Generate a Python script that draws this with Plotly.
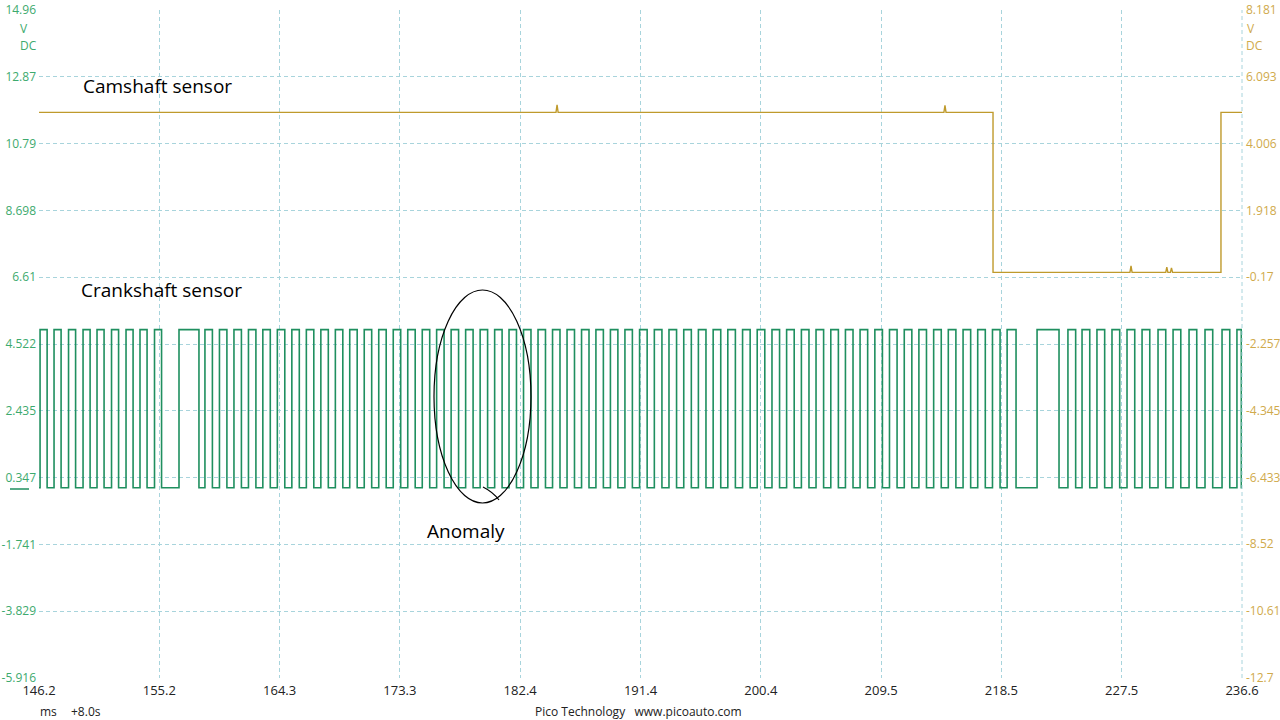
import plotly.graph_objects as go

# ---------------- data ----------------
x_tick_vals = [146.2, 155.24, 164.28, 173.32, 182.36, 191.4, 200.44, 209.48, 218.52, 227.56, 236.6]
x_tick_text = ["146.2", "155.2", "164.3", "173.3", "182.4", "191.4", "200.4", "209.5", "218.5", "227.5", "236.6"]

left_ticks = [14.96, 12.87, 10.79, 8.698, 6.61, 4.522, 2.435, 0.347, -1.741, -3.829, -5.916]
right_ticks = [8.181, 6.093, 4.006, 1.918, -0.17, -2.257, -4.345, -6.433, -8.52, -10.61, -12.7]

# Crankshaft sensor (left axis, V): rising / falling edge times (ms)
crank_rise_ms = [146.28, 147.33, 148.42, 149.51, 150.56, 151.65, 152.74, 153.79, 154.88,
                 156.72,
                 158.67, 159.76, 160.85, 161.94, 163.02, 164.11, 165.20, 166.29, 167.38, 168.47,
                 169.55, 170.64, 171.73, 172.82, 173.91, 175.00, 176.08, 177.17, 178.26, 179.35,
                 180.44, 181.52, 182.61, 183.70, 184.79, 185.88, 186.97, 188.05, 189.14, 190.23,
                 191.33, 192.44, 193.54, 194.65, 195.75, 196.86, 197.96, 199.07, 200.17, 201.28,
                 202.38, 203.49, 204.59, 205.70, 206.80, 207.90, 209.01, 210.11, 211.22, 212.32,
                 213.43, 214.53, 215.64, 216.74, 217.85, 218.95,
                 221.20,
                 223.52, 224.58, 225.70, 226.83, 227.96, 229.09, 230.29, 231.42, 232.62, 233.82,
                 235.10, 236.22]
crank_fall_ms = [146.81, 147.86, 148.95, 150.04, 151.09, 152.18, 153.27, 154.32, 155.41,
                 158.22,
                 159.23, 160.32, 161.41, 162.50, 163.58, 164.67, 165.76, 166.85, 167.94, 169.03,
                 170.11, 171.20, 172.29, 173.38, 174.47, 175.56, 176.64, 177.73, 178.82, 179.91,
                 181.00, 182.08, 183.17, 184.26, 185.35, 186.44, 187.53, 188.61, 189.70, 190.79,
                 191.90, 193.01, 194.11, 195.22, 196.32, 197.43, 198.53, 199.64, 200.74, 201.85,
                 202.95, 204.06, 205.16, 206.27, 207.37, 208.47, 209.58, 210.68, 211.79, 212.89,
                 214.00, 215.10, 216.21, 217.31, 218.42, 219.62,
                 222.85,
                 224.10, 225.16, 226.28, 227.41, 228.54, 229.67, 230.87, 232.00, 233.20, 234.40,
                 235.68, 236.55]
crank_high_v = 4.97
crank_low_v = 0.03

# Camshaft sensor (right axis, V)
cam_high_v = 4.98
cam_low_v = -0.02
cam_fall_ms = 217.89
cam_rise_ms = 235.02
cam_glitch_ms = [185.13, 214.28, 228.26, 230.95, 231.3]
cam_glitch_v = [5.22, 5.20, 0.18, 0.14, 0.12]

T_START, T_END = 146.2, 236.6

# ---------------- build traces ----------------
cx, cy = [T_START], [crank_low_v]
for r, f in zip(crank_rise_ms, crank_fall_ms):
    cx += [r, f]
    cy += [crank_high_v, crank_low_v]
cx.append(T_END)
cy.append(cy[-1])

pts = [(T_START, cam_high_v), (cam_fall_ms, cam_high_v), (cam_fall_ms, cam_low_v),
       (cam_rise_ms, cam_low_v), (cam_rise_ms, cam_high_v), (T_END, cam_high_v)]
for t, v in zip(cam_glitch_ms, cam_glitch_v):
    base = cam_low_v if cam_fall_ms < t < cam_rise_ms else cam_high_v
    pts += [(t - 0.08, base), (t, v), (t + 0.08, base)]
pts.sort(key=lambda p: p[0])
camx = [p[0] for p in pts]
camy = [p[1] for p in pts]

GREEN = "#1f8f5f"
GOLD = "#bf9a2c"
GREEN_TXT = "#3daa6e"
GOLD_TXT = "#d0aa4c"
GRID = "#a8d4dc"
FONT = "Open Sans, Noto Sans, sans-serif"

fig = go.Figure()
fig.add_trace(go.Scatter(x=camx, y=camy, mode="lines", yaxis="y2",
                         line=dict(color=GOLD, width=1.4), name="Camshaft", hoverinfo="skip"))
fig.add_trace(go.Scatter(x=cx, y=cy, mode="lines", line_shape="hv",
                         line=dict(color=GREEN, width=1.6), name="Crankshaft", hoverinfo="skip"))

L, R, T, B = 39, 38, 10, 42
W, H = 1280, 720
pw, ph = W - L - R, H - T - B


def px(x):
    return (x - L) / pw


def py(y):
    return (H - B - y) / ph


fig.update_layout(
    width=W, height=H,
    margin=dict(l=L, r=R, t=T, b=B, autoexpand=False),
    paper_bgcolor="white", plot_bgcolor="white",
    showlegend=False,
    font=dict(family=FONT, size=12, color="#222"),
    xaxis=dict(range=[T_START, T_END], tickvals=x_tick_vals, ticktext=x_tick_text, automargin=False,
               showgrid=True, gridcolor=GRID, griddash="4px,3px", gridwidth=1,
               zeroline=False, showline=False, ticks="", ticklabelstandoff=3,
               tickfont=dict(size=13, color="#222")),
    yaxis=dict(range=[-5.9162, 14.9602], tickvals=left_ticks, ticktext=[str(v) for v in left_ticks],
               automargin=False, showgrid=True, gridcolor=GRID, griddash="4px,3px", gridwidth=1,
               zeroline=False, showline=False, ticks="", ticklabelstandoff=2,
               tickfont=dict(size=12, color=GREEN_TXT)),
    yaxis2=dict(range=[-12.7002, 8.1812], tickvals=right_ticks, ticktext=[str(v) for v in right_ticks],
                automargin=False, overlaying="y", side="right", showgrid=False, zeroline=False,
                showline=False, ticks="", ticklabelstandoff=3, tickfont=dict(size=12, color=GOLD_TXT)),
)

fig.add_shape(type="line", xref="paper", yref="paper", x0=1, x1=1, y0=0, y1=1,
              line=dict(color=GRID, width=1, dash="4px,3px"))

ann = []
ann.append(dict(text="V", x=px(24), y=py(28), xanchor="center", yanchor="middle", font=dict(color=GREEN_TXT, size=12)))
ann.append(dict(text="DC", x=px(28), y=py(46), xanchor="center", yanchor="middle", font=dict(color=GREEN_TXT, size=12)))
ann.append(dict(text="V", x=px(1245), y=py(28), xanchor="left", yanchor="middle", font=dict(color=GOLD_TXT, size=12)))
ann.append(dict(text="DC", x=px(1244), y=py(46), xanchor="left", yanchor="middle", font=dict(color=GOLD_TXT, size=12)))
ann.append(dict(text="ms", x=px(48), y=py(712), xanchor="center", yanchor="middle", font=dict(color="#222", size=12)))
ann.append(dict(text="+8.0s", x=px(86), y=py(712), xanchor="center", yanchor="middle", font=dict(color="#222", size=12)))
ann.append(dict(text="Pico Technology&nbsp;&nbsp;&nbsp;www.picoauto.com", x=px(638), y=py(712),
                xanchor="center", yanchor="middle", font=dict(color="#222", size=12)))
ann.append(dict(text="Camshaft sensor", x=px(81), y=py(86), xanchor="left", yanchor="middle",
                font=dict(color="#000", size=19)))
ann.append(dict(text="Crankshaft sensor", x=px(79), y=py(290), xanchor="left", yanchor="middle",
                font=dict(color="#000", size=19)))
ann.append(dict(text="Anomaly", x=px(466), y=py(531), xanchor="center", yanchor="middle",
                font=dict(color="#000", size=19)))
for a in ann:
    a.update(xref="paper", yref="paper", showarrow=False)
fig.update_layout(annotations=ann)

fig.add_shape(type="circle", xref="paper", yref="paper",
              x0=px(434), x1=px(531), y0=py(503), y1=py(290),
              line=dict(color="black", width=1.2))
fig.add_shape(type="path", xref="paper", yref="paper",
              path=f"M {px(483)} {py(487)} Q {px(493)} {py(492)} {px(499)} {py(500)}",
              line=dict(color="black", width=1.2))
fig.add_shape(type="line", xref="paper", yref="paper", x0=px(10), x1=px(29), y0=py(489), y1=py(489),
              line=dict(color=GREEN, width=1.5))

fig.write_html("out.html", config={"displayModeBar": False},
               post_script="document.body.style.margin='0';document.body.style.overflow='hidden';")
